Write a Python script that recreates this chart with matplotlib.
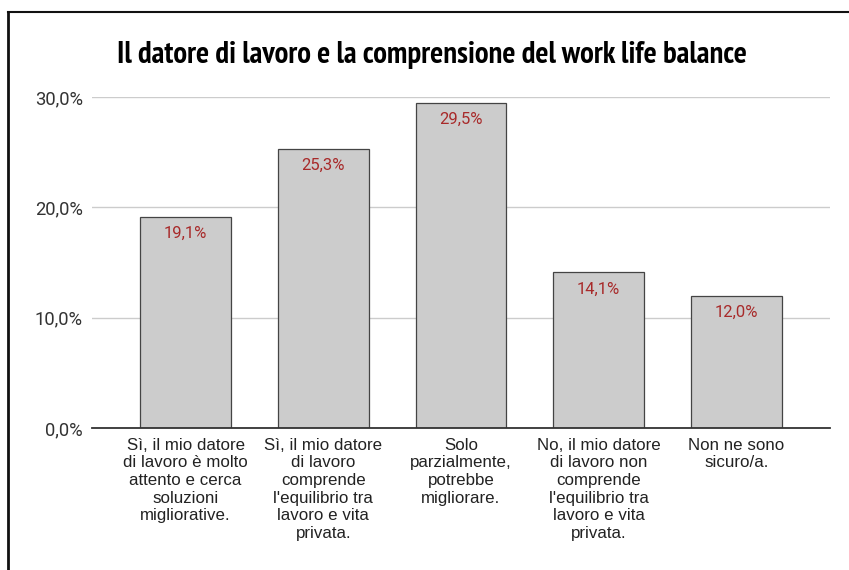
import matplotlib
matplotlib.use("Agg")
import matplotlib.pyplot as plt
from matplotlib.lines import Line2D
from matplotlib import font_manager as fm

categories = [
    "Sì, il mio datore\ndi lavoro è molto\nattento e cerca\nsoluzioni\nmigliorative.",
    "Sì, il mio datore\ndi lavoro\ncomprende\nl'equilibrio tra\nlavoro e vita\nprivata.",
    "Solo\nparzialmente,\npotrebbe\nmigliorare.",
    "No, il mio datore\ndi lavoro non\ncomprende\nl'equilibrio tra\nlavoro e vita\nprivata.",
    "Non ne sono\nsicuro/a.",
]
values = [19.1, 25.3, 29.5, 14.1, 12.0]
yticks = [0, 10, 20, 30]
ytick_labels = ["0,0%", "10,0%", "20,0%", "30,0%"]
title = "Il datore di lavoro e la comprensione del work life balance"

def _w(f):
    w = f.weight
    if isinstance(w, str):
        return {"bold": 700, "semibold": 600, "demibold": 600, "heavy": 800, "black": 900}.get(w, 400)
    return w

bold_names = set(f.name for f in fm.fontManager.ttflist if _w(f) >= 700)
all_names = set(f.name for f in fm.fontManager.ttflist)
narrow_pref = ["Liberation Sans Narrow", "Arial Narrow", "PT Sans Narrow", "Archivo Narrow",
               "Roboto Condensed", "IBM Plex Sans Condensed", "Encode Sans Condensed",
               "Asap Condensed", "Open Sans Condensed"]
cands = [n for n in narrow_pref if n in bold_names] + [n for n in narrow_pref if n in all_names] + ["DejaVu Sans"]
title_font = cands[0]

fig = plt.figure(figsize=(8.49, 5.70), dpi=100)
ax = fig.add_axes([92/849, 1-428/570, (830-92)/849, (428-97)/570])

x = list(range(len(values)))
ax.bar(x, values, width=0.66, color="#cccccc", edgecolor="#444444", linewidth=0.9, zorder=3)
for xi, v in zip(x, values):
    ax.annotate(f"{v:.1f}%".replace(".", ","), (xi, v), xytext=(0, -6.5), textcoords="offset points",
                ha="center", va="top", color="#a82a2a", fontsize=12, family="Roboto", zorder=4)

ax.set_xlim(-0.68, 4.68)
ax.set_ylim(0, 30)
ax.set_yticks(yticks)
ax.set_yticklabels(ytick_labels, family="Roboto", fontsize=13.2, color="#333333")
ax.set_xticks(x)
ax.set_xticklabels(categories, family="Liberation Sans", fontsize=12.2, color="#222222",
                   linespacing=1.22, va="top")
ax.tick_params(axis="both", length=0)
ax.tick_params(axis="y", pad=6.5)
ax.tick_params(axis="x", pad=7)
ax.grid(axis="y", color="#cccccc", linewidth=1, zorder=0)
for s in ["top", "right", "left"]:
    ax.spines[s].set_visible(False)
ax.spines["bottom"].set_color("#333333")
ax.spines["bottom"].set_linewidth(1.3)
ax.spines["bottom"].set_zorder(5)

t = fig.text(432/849, 1-63/570, title, ha="center", va="baseline", fontsize=21.5,
             family=title_font, weight="bold", color="#000000")
# fit the title to the reference width (630 px)
fig.canvas.draw()
bb = t.get_window_extent()
t.set_fontsize(21.5 * 630 / bb.width)

fig.add_artist(Line2D([8/849, 8/849], [0, 1-12/570], transform=fig.transFigure, color="#111111", lw=2))
fig.add_artist(Line2D([8/849, 1], [1-12/570, 1-12/570], transform=fig.transFigure, color="#111111", lw=1.5))

fig.savefig("out.png", dpi=100)
